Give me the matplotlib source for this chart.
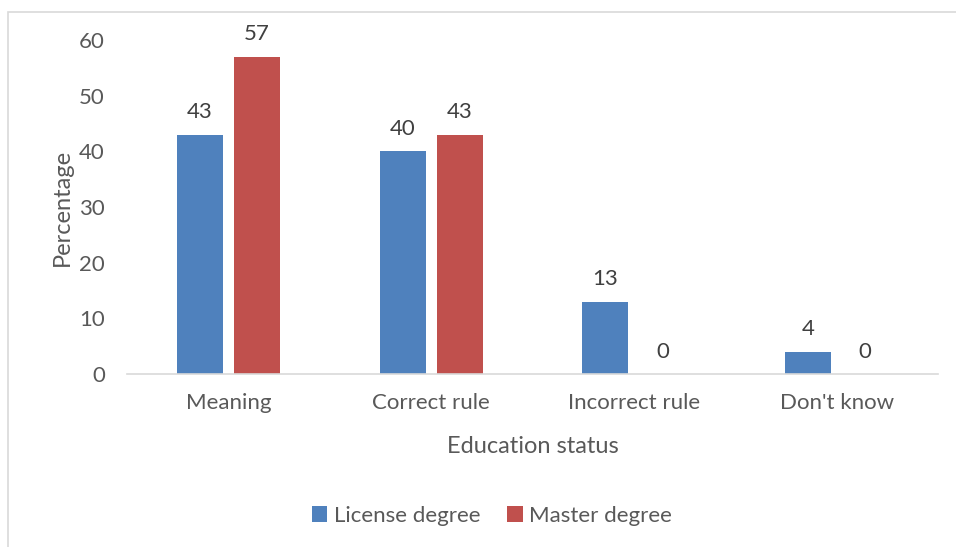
import numpy as np
import matplotlib
matplotlib.use("Agg")
import matplotlib.pyplot as plt
from matplotlib.patches import Rectangle

plt.rcParams['font.family'] = ['Lato', 'DejaVu Sans']

# === data ===
categories = ["Meaning", "Correct rule", "Incorrect rule", "Don't know"]
license_vals = [43, 40, 13, 4]
master_vals = [57, 43, 0, 0]
series_names = ["License degree", "Master degree"]
yticks = [0, 10, 20, 30, 40, 50, 60]

BLUE = "#4F81BD"
RED = "#C0504D"
TXT = "#595959"
FS = 16

fig = plt.figure(figsize=(9.56, 5.47), dpi=100)
ax = fig.add_axes([127 / 956, 1 - 374 / 547, (938 - 127) / 956, (374 - 40) / 547])

x = np.arange(len(categories))
w = 0.227
off = 0.141
b1 = ax.bar(x - off, license_vals, w, color=BLUE, label=series_names[0])
b2 = ax.bar(x + off, master_vals, w, color=RED, label=series_names[1])

for bars, vals in [(b1, license_vals), (b2, master_vals)]:
    for rect, v in zip(bars, vals):
        ax.annotate(str(v), (rect.get_x() + rect.get_width() / 2, v),
                    xytext=(0, 9), textcoords="offset points",
                    ha="center", va="bottom", fontsize=FS, color="#404040")

ax.set_xlim(-0.5, len(categories) - 0.5)
ax.set_ylim(0, 60)
ax.set_yticks(yticks)
ax.set_xticks(x)
ax.set_xticklabels(categories)
ax.tick_params(length=0, labelsize=FS, labelcolor=TXT)
ax.tick_params(axis='y', pad=16)
ax.tick_params(axis='x', pad=14)
for s in ["top", "right", "left"]:
    ax.spines[s].set_visible(False)
ax.spines["bottom"].set_color("#d9d9d9")
ax.spines["bottom"].set_linewidth(1.2)

ax.set_ylabel("Percentage", fontsize=17, color=TXT, labelpad=4)
ax.set_xlabel("Education status", fontsize=17, color=TXT, labelpad=16)

fig.legend(handles=[b1, b2], loc="center", bbox_to_anchor=(492 / 956, 1 - 516 / 547),
           ncol=2, frameon=False, fontsize=FS, labelcolor=TXT,
           handlelength=0.7, handleheight=0.7, handletextpad=0.3, columnspacing=1.2)

# chart area border
fig.patches.append(Rectangle((8 / 956, -0.05), 1.0, 1 - 12 / 547 + 0.05,
                             transform=fig.transFigure, fill=False,
                             edgecolor="#d9d9d9", linewidth=1.2))

fig.savefig("out.png", dpi=100)
